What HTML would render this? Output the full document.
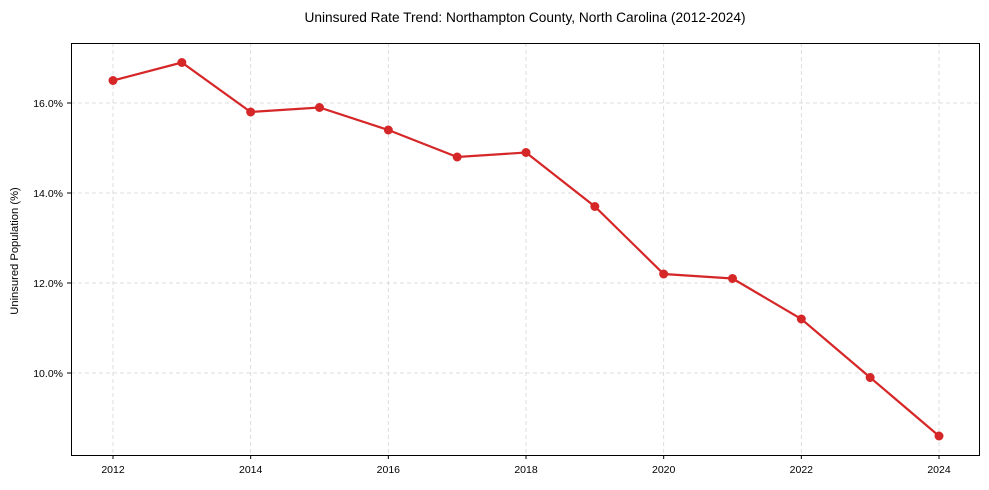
<!DOCTYPE html>
<html><head><meta charset="utf-8"><style>
body{margin:0;background:#fff;}
svg{display:block;font-family:"Liberation Sans Narrow","Liberation Sans",Arial,sans-serif;}
</style></head><body>
<svg id="chart" width="989" height="490">
<text x="525" y="22" text-anchor="middle" font-size="13.7" fill="#000">Uninsured Rate Trend: Northampton County, North Carolina (2012-2024)</text>
<text transform="translate(18,251) rotate(-90)" text-anchor="middle" font-size="11.2" fill="#000">Uninsured Population (%)</text>
<g id="grid"></g><g id="axes"></g><g id="series"></g>
<rect x="71.5" y="43.5" width="908" height="412" fill="none" stroke="#000" stroke-width="1"/>
</svg>
<script>
const years=[2012,2013,2014,2015,2016,2017,2018,2019,2020,2021,2022,2023,2024];
const rates=[16.5,16.9,15.8,15.9,15.4,14.8,14.9,13.7,12.2,12.1,11.2,9.9,8.6];
const xTicks=[2012,2014,2016,2018,2020,2022,2024];
const yTicks=[10,12,14,16];
const NS="http://www.w3.org/2000/svg";
function xs(v){return 113+(v-2012)*(939-113)/12;}
function ys(v){return 373-(v-10)*45;}
function mk(tag,attrs,parent){const e=document.createElementNS(NS,tag);for(const k in attrs)e.setAttribute(k,attrs[k]);document.getElementById(parent).appendChild(e);return e;}
xTicks.forEach(t=>{
 const g=mk('line',{x1:xs(t),x2:xs(t),y1:43,y2:455,stroke:'#d4d4d4','stroke-dasharray':'4,3','stroke-width':0.8},'grid');
 
 
 mk('line',{x1:xs(t),x2:xs(t),y1:455,y2:459,stroke:'#000'},'axes');
 const l=mk('text',{x:xs(t),y:473,'text-anchor':'middle','font-size':10.5},'axes');l.textContent=t;
 
 
});
yTicks.forEach(t=>{
 const g=mk('line',{x1:71,x2:980,y1:ys(t),y2:ys(t),stroke:'#d4d4d4','stroke-dasharray':'4,3','stroke-width':0.8},'grid');
 
 
 mk('line',{x1:67,x2:71,y1:ys(t),y2:ys(t),stroke:'#000'},'axes');
 const l=mk('text',{x:63,y:ys(t)+4,'text-anchor':'end','font-size':10.5},'axes');l.textContent=t.toFixed(1)+'%';
 
 
});
const p=mk('polyline',{points:years.map((y,i)=>xs(y)+','+ys(rates[i])).join(' '),fill:'none',stroke:'#d62728','stroke-width':2.2},'series');


years.forEach((y,i)=>{
 const c=mk('circle',{cx:xs(y),cy:ys(rates[i]),r:4.5,fill:'#d62728'},'series');
 
 
});
</script>
</body></html>
